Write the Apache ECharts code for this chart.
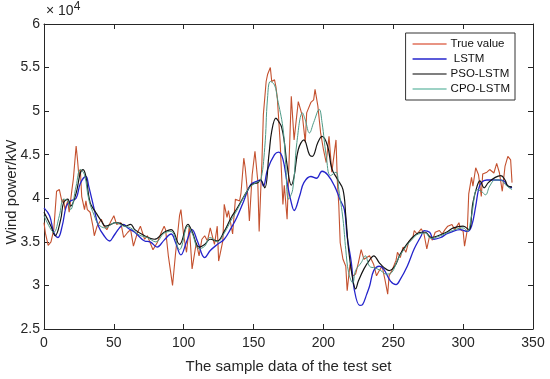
<!DOCTYPE html>
<html><head><meta charset="utf-8">
<script src="https://cdn.jsdelivr.net/npm/echarts@6/dist/echarts.min.js"></script>
<style>html,body{margin:0;padding:0;background:#fff}#c{width:550px;height:379px}</style>
</head><body><div id="c"></div>
<script>
// values in units of 10^4 kW
const trueX = [0,1,3,5,7,9,11,12,13,14,15,17,18,20,21,23,24,25,26,27,29,30,31,33,35,36,38,41,43,45,48,50,52,55,57,60,62,64,67,69,72,74,78,81,84,86,87,89,92,94,97,98,100,102,104,106,109,111,113,115,117,119,122,124,125,128,129,131,132,135,137,140,141,143,144,146,147,149,151,153,154,155,156,157,159,160,162,163,165,166,167,169,171,172,174,177,179,182,185,187,188,191,193,194,196,198,200,202,204,206,209,210,211,212,214,216,217,219,221,223,225,227,229,233,236,238,240,242,244,246,247,249,252,253,255,257,259,261,264,265,267,270,272,274,276,278,280,283,285,287,289,292,294,297,298,300,301,303,304,306,307,309,311,313,314,317,319,322,324,326,328,330,332,334,335];
const trueY = [3.72,3.60,3.46,3.50,3.64,4.08,4.10,4.12,3.95,3.99,3.87,3.97,3.84,4.10,4.22,4.60,4.44,4.25,4.33,4.02,3.87,3.97,3.87,3.84,3.68,3.57,3.68,3.76,3.68,3.64,3.74,3.80,3.70,3.72,3.55,3.61,3.64,3.45,3.61,3.68,3.53,3.57,3.41,3.49,3.61,3.68,3.64,3.34,3.00,3.34,3.80,3.87,3.57,3.38,3.68,3.19,3.49,3.34,3.53,3.57,3.51,3.66,3.47,3.68,3.28,3.51,3.93,3.78,3.86,3.59,3.99,3.97,4.06,4.46,4.35,4.01,3.74,4.27,4.54,4.20,3.62,4.04,4.43,4.96,5.34,5.42,5.50,5.34,5.36,5.28,5.15,4.65,3.93,4.15,3.76,5.17,4.67,5.11,4.94,4.64,4.98,5.10,5.13,5.25,5.06,4.75,4.56,4.41,4.71,4.30,4.67,4.18,3.92,3.49,3.30,3.22,2.94,3.24,3.11,3.13,3.26,3.41,3.30,3.34,3.24,3.11,3.17,3.22,3.07,2.90,3.11,3.17,3.29,3.38,3.32,3.44,3.38,3.50,3.55,3.63,3.59,3.65,3.59,3.42,3.57,3.52,3.61,3.63,3.59,3.64,3.68,3.70,3.64,3.72,3.64,3.62,3.45,3.64,4.05,4.24,4.14,4.35,4.27,4.02,4.28,4.30,4.33,4.29,4.40,4.29,4.08,4.37,4.48,4.44,4.18];

const lstmX = [0,4,7,10,13,16,19,23,26,30,32,36,39,43,47,50,54,57,60,65,72,76,81,86,91,94,98,102,106,110,115,119,124,129,134,138,143,148,153,155,157,160,165,168,171,174,177,179,183,186,191,195,199,203,208,212,215,217,220,222,226,228,231,233,236,240,243,248,252,255,260,265,270,272,276,279,284,288,291,298,303,306,309,311,313,317,322,325,329,332,335];
const lstmY = [3.89,3.80,3.61,3.55,3.68,3.91,3.97,4.00,4.17,4.25,4.14,3.87,3.68,3.57,3.51,3.57,3.66,3.70,3.66,3.61,3.51,3.50,3.44,3.52,3.59,3.50,3.35,3.50,3.64,3.50,3.32,3.40,3.47,3.53,3.66,3.78,3.97,4.16,4.20,4.21,4.14,4.33,4.50,4.53,4.45,4.18,3.95,3.86,4.03,4.18,4.25,4.23,4.31,4.27,4.14,3.98,3.87,3.56,3.26,2.96,2.77,2.78,2.90,2.99,3.17,3.22,3.19,3.05,3.01,3.07,3.22,3.42,3.57,3.63,3.61,3.53,3.55,3.59,3.61,3.64,3.62,3.68,3.91,4.10,4.18,4.21,4.21,4.21,4.20,4.14,4.12];

const psoX = [0,5,8,12,14,17,19,23,26,28,30,33,37,41,44,48,51,55,58,62,65,72,79,86,91,97,103,106,111,115,119,124,129,134,138,146,149,153,155,158,161,163,166,168,170,172,174,177,179,182,186,190,192,196,199,203,206,210,214,216,218,221,223,225,229,233,236,240,243,247,251,255,260,265,270,273,277,282,288,293,300,304,307,310,312,315,318,323,327,330,332,335];
const psoY = [3.84,3.68,3.57,3.76,3.95,3.99,3.91,4.06,4.29,4.33,4.25,3.95,3.84,3.74,3.68,3.70,3.72,3.71,3.68,3.70,3.64,3.57,3.53,3.61,3.64,3.47,3.70,3.62,3.44,3.47,3.53,3.51,3.62,3.78,3.88,4.10,4.16,4.18,4.21,4.12,4.50,4.77,4.92,4.88,4.82,4.65,4.38,4.15,4.25,4.56,4.67,4.50,4.48,4.64,4.71,4.60,4.34,4.22,4.10,3.80,3.41,3.07,2.96,3.05,3.19,3.29,3.34,3.26,3.21,3.17,3.22,3.36,3.48,3.57,3.61,3.61,3.55,3.57,3.61,3.66,3.68,3.64,3.95,4.14,4.20,4.12,4.18,4.24,4.26,4.21,4.14,4.13];

const cpoX = [0,5,7,11,14,17,19,23,26,29,32,36,39,44,48,51,57,62,68,74,80,86,91,97,103,106,111,115,119,124,129,134,138,146,149,153,155,158,160,162,165,167,171,173,175,178,181,185,187,190,193,197,199,202,205,209,211,214,216,218,221,223,227,230,233,237,241,245,249,253,258,263,268,273,277,282,288,294,300,303,306,310,313,316,319,323,327,330,333,335];
const cpoY = [3.80,3.64,3.61,3.80,3.99,3.97,3.87,4.14,4.33,4.27,3.99,3.80,3.70,3.66,3.70,3.72,3.68,3.66,3.58,3.55,3.50,3.60,3.62,3.41,3.68,3.60,3.42,3.45,3.55,3.50,3.60,3.75,3.86,4.10,4.15,4.19,4.20,4.58,5.15,5.34,5.30,5.15,4.81,4.39,3.99,4.10,4.64,4.98,4.90,4.75,4.87,5.02,4.87,4.49,4.26,4.30,4.10,3.76,3.41,3.15,3.03,3.17,3.26,3.34,3.22,3.20,3.17,3.13,3.15,3.29,3.42,3.52,3.59,3.60,3.54,3.56,3.60,3.64,3.66,3.62,3.80,4.10,4.08,4.04,4.14,4.21,4.21,4.16,4.12,4.10];

const seriesNames = ['True value', ' LSTM', 'PSO-LSTM', 'CPO-LSTM'];
const xTicks = {min: 0, max: 350, interval: 50};
const yTicks = {min: 2.5, max: 6, interval: 0.5};

const zip = (xs, ys) => xs.map((x, k) => [x, ys[k]]);
const AX = '#262626';
const FONT = 'Liberation Sans, Arial, sans-serif';

const chart = echarts.init(document.getElementById('c'), null, {renderer: 'canvas'});
const baseX = {
  type: 'value', min: xTicks.min, max: xTicks.max, interval: xTicks.interval,
  axisLine: {show: true, onZero: false, lineStyle: {color: AX, width: 1}},
  axisTick: {show: true, inside: true, length: 5, lineStyle: {color: AX}},
  splitLine: {show: false}
};
const baseY = {
  type: 'value', min: yTicks.min, max: yTicks.max, interval: yTicks.interval,
  axisLine: {show: true, onZero: false, lineStyle: {color: AX, width: 1}},
  axisTick: {show: true, inside: true, length: 5, lineStyle: {color: AX}},
  splitLine: {show: false}
};
chart.setOption({
  animation: false,
  backgroundColor: '#fff',
  grid: {left: 44, right: 17, top: 24, bottom: 49},
  xAxis: [
    Object.assign({}, baseX, {position: 'bottom',
      axisLabel: {show: true, color: AX, fontSize: 14, fontFamily: FONT, margin: 7},
      name: 'The sample data of the test set', nameLocation: 'middle', nameGap: 30,
      nameTextStyle: {color: AX, fontSize: 15, fontFamily: FONT}}),
    Object.assign({}, baseX, {position: 'top', axisLabel: {show: false}})
  ],
  yAxis: [
    Object.assign({}, baseY, {position: 'left',
      axisLabel: {show: true, color: AX, fontSize: 14, fontFamily: FONT, margin: 4,
        formatter: v => String(+v.toFixed(1))}}),
    Object.assign({}, baseY, {position: 'right', axisLabel: {show: false}})
  ],
  graphic: [
    {type: 'text', x: 12, y: 192, rotation: Math.PI / 2,
      style: {text: 'Wind power/kW', fill: AX, fontSize: 15, fontFamily: FONT,
        align: 'center', verticalAlign: 'middle'}},
    {type: 'text', x: 46, y: 22,
      style: {text: '{a|× 10}{b|4}', fill: AX, verticalAlign: 'bottom',
        rich: {a: {fontSize: 14, fontFamily: FONT, fill: AX},
               b: {fontSize: 12, fontFamily: FONT, fill: AX, verticalAlign: 'top', padding: [0, 0, 9, 0]}}}}
  ],
  legend: {
    orient: 'vertical', right: 35, top: 33,
    backgroundColor: '#fff', borderColor: '#333', borderWidth: 1, borderRadius: 0,
    padding: [5, 5, 5, 7], itemGap: 3, itemWidth: 34, itemHeight: 1.5, icon: 'rect',
    textStyle: {color: '#111', fontSize: 11.5, fontFamily: FONT, padding: [0, 0, 0, -1]},
    data: seriesNames
  },
  series: [
    {name: seriesNames[0], type: 'line', data: zip(trueX, trueY), symbol: 'none',
      lineStyle: {color: '#c4512f', width: 1.1}, itemStyle: {color: '#e0705a'}},
    {name: seriesNames[1], type: 'line', data: zip(lstmX, lstmY), symbol: 'none', smooth: 0.4,
      lineStyle: {color: '#2424cc', width: 1.3}, itemStyle: {color: '#2424cc'}},
    {name: seriesNames[2], type: 'line', data: zip(psoX, psoY), symbol: 'none', smooth: 0.4,
      lineStyle: {color: '#141414', width: 1.2}, itemStyle: {color: '#555'}},
    {name: seriesNames[3], type: 'line', data: zip(cpoX, cpoY), symbol: 'none', smooth: 0.4,
      lineStyle: {color: '#4d9a86', width: 1}, itemStyle: {color: '#7cc3b2'}}
  ]
});
</script></body></html>
